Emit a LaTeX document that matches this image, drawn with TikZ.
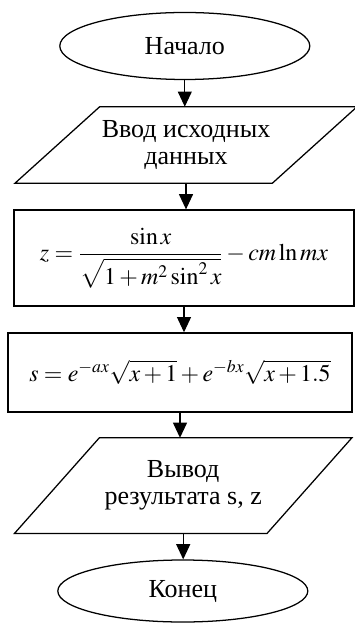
\documentclass[tikz,border=0pt]{standalone}
\usepackage{amsmath}
\usepackage{mathptmx}
\usepackage{fontspec}
\setmainfont{Liberation Serif}
\usetikzlibrary{shapes.geometric,arrows.meta}

\begin{document}
\begin{tikzpicture}[
        terminal/.style={draw, ellipse, fill=white, line width=0.9pt, minimum width=6.25cm, minimum height=#1, font=\fontsize{18.5}{19}\selectfont},
        io/.style={rectangle, align=center, font=\fontsize{18.5}{19}\selectfont},
        ioline/.style={line width=0.9pt, line join=miter},
        process/.style={draw, rectangle, fill=white, line width=0.9pt, font=\fontsize{17}{18}\selectfont},
        arrow/.style={-{Triangle[width=0.35cm,length=0.38cm]}, line width=0.8pt}
    ]
        \useasboundingbox (0,0) rectangle (8.875,-15.6);

        % Blocks
        \node[terminal=1.675cm] (start) at (4.62, -1.15) {Начало};
        \node[io, minimum width=6.42cm, minimum height=1.9cm] (input) at (4.65, -3.625) {Ввод исходных\\данных};
        \node[process, minimum width=8.5cm, minimum height=2.4cm] (calcz) at (4.6, -6.45) {$z=\dfrac{\sin x}{\sqrt{1+m^2\sin^2 x}}-cm\ln mx$};
        \node[process, minimum width=8.6cm, minimum height=1.975cm] (calcs) at (4.5, -9.31) {$s=e^{-ax}\sqrt{x+1}+e^{-bx}\sqrt{x+1.5}$};
        \node[io, minimum width=6.3cm, minimum height=2.375cm] (output) at (4.58, -12.14) {Вывод\\результата s, z};
        \node[terminal=1.55cm] (stop) at (4.57, -14.775) {Конец};

        % Parallelogram outlines of the input/output blocks
        \draw[ioline] ([xshift=1.06cm]input.north west) -- ([xshift=1.06cm]input.north east) -- ([xshift=-1.06cm]input.south east) -- ([xshift=-1.06cm]input.south west) -- cycle;
        \draw[ioline] ([xshift=1.06cm]output.north west) -- ([xshift=1.06cm]output.north east) -- ([xshift=-1.06cm]output.south east) -- ([xshift=-1.06cm]output.south west) -- cycle;

        % Connections
        \draw[arrow] (start.south) -- (start.south |- input.north);
        \draw[arrow] (input.south) -- (input.south |- calcz.north);
        \draw[arrow] (calcz.south) -- (calcz.south |- calcs.north);
        \draw[arrow] (calcs.south) -- (calcs.south |- output.north);
        \draw[arrow] (output.south) -- (output.south |- stop.north);
    \end{tikzpicture}
\end{document}
